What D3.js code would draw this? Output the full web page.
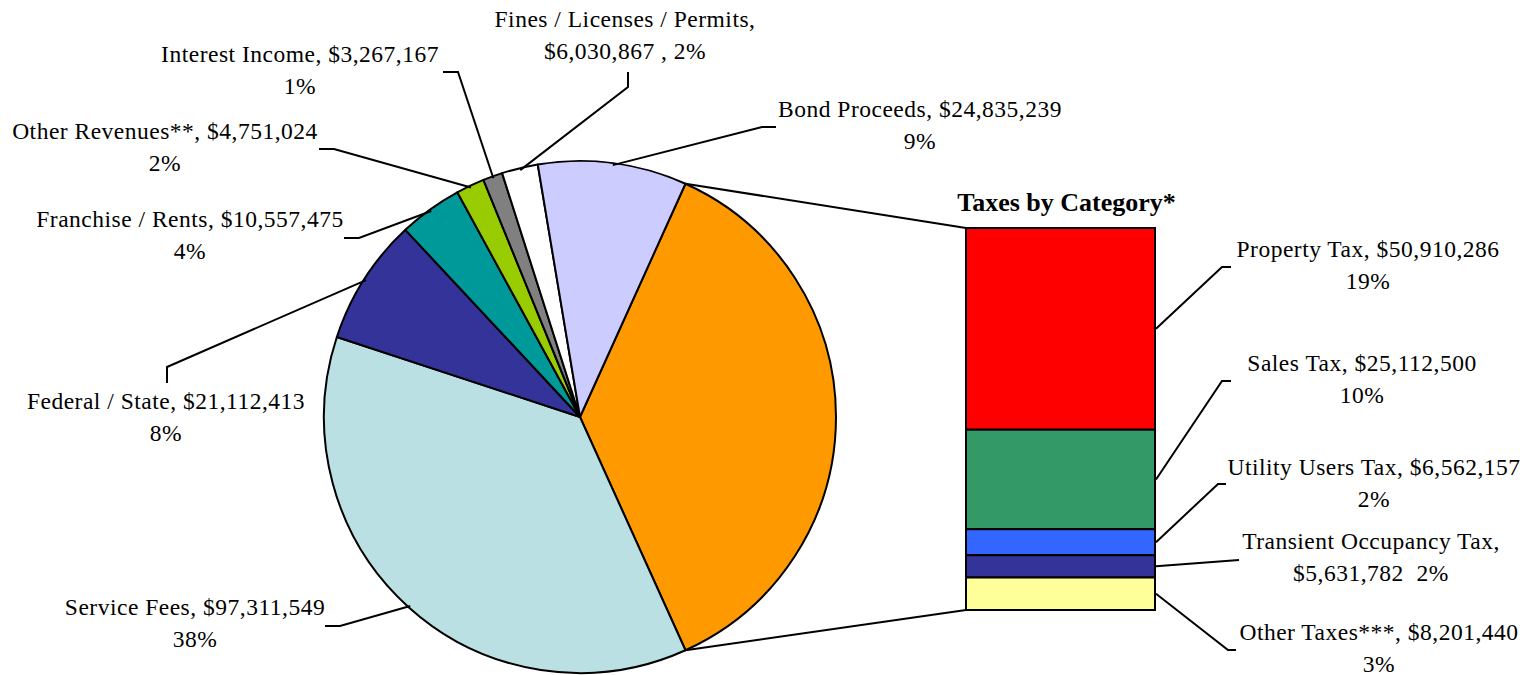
<!DOCTYPE html>
<html>
<head>
<meta charset="utf-8">
<script src="https://cdn.jsdelivr.net/npm/d3@7"></script>
<style>
  body { margin: 0; background: #fff; }
  text { font-family: "Liberation Serif", "Times New Roman", serif; white-space: pre; }
</style>
</head>
<body>
<script>
// revenue slices, clockwise starting with the exploded "Taxes" slice
const revNames = ["Taxes", "Service Fees", "Federal / State", "Franchise / Rents",
  "Other Revenues**", "Interest Income", "Fines / Licenses / Permits", "Bond Proceeds"];
const revColors = ["#FF9900", "#BBE0E3", "#333399", "#009999", "#99CC00", "#808080", "#FFFFFF", "#CCCCFF"];
const revPcts = ["", "38%", "8%", "4%", "2%", "1%", "2%", "9%"];

// tax breakdown (the bar)
const taxNames = ["Property Tax", "Sales Tax", "Utility Users Tax", "Transient Occupancy Tax", "Other Taxes***"];
const taxValues = [50910286, 25112500, 6562157, 5631782, 8201440];
const taxColors = ["#FF0000", "#339966", "#3366FF", "#333399", "#FFFF99"];
const taxPcts = ["19%", "10%", "2%", "2%", "3%"];

const otherValues = [97311549, 21112413, 10557475, 4751024, 3267167, 6030867, 24835239];
const taxTotal = d3.sum(taxValues);
const revValues = [taxTotal].concat(otherValues);

const width = 1531, height = 675;
const cx = 580, cy = 417, r = 256;
const bar = {x0: 966, x1: 1155, top: 228, bottom: 610};
const fmt = d3.format("$,");
const fontSize = 23.5;
const lineH = 31.5;

// label placement: text centre, first baseline, leader elbow and end
const revLayout = [
  null,
  {x: 195, y: 615, elbow: [340, 626], end: [325, 626]},
  {x: 166, y: 409, elbow: [167, 367], end: [167, 383]},
  {x: 190, y: 227, elbow: [359, 238], end: [344, 238]},
  {x: 165, y: 139, elbow: [334, 149], end: [319, 149]},
  {x: 300, y: 62, elbow: [458, 72], end: [443, 72]},
  {x: 625, y: 27, elbow: [628, 87], end: [628, 72], wrap: " , "},
  {x: 920, y: 117, elbow: [762, 127], end: [776, 127]}
];
const taxLayout = [
  {x: 1368, y: 257, elbow: [1222, 267], end: [1231, 267]},
  {x: 1362, y: 371, elbow: [1222, 381], end: [1231, 381]},
  {x: 1374, y: 475, elbow: [1218, 484], end: [1226, 484]},
  {x: 1371, y: 549, elbow: [1239, 560], end: [1239, 560], wrap: "  "},
  {x: 1379, y: 640, elbow: [1228, 650], end: [1236, 650]}
];

const svg = d3.select("body").append("svg")
  .attr("width", width)
  .attr("height", height);

const taxAngle = taxTotal / d3.sum(revValues) * 2 * Math.PI;
const a0 = Math.PI / 2 - taxAngle / 2;

const pie = d3.pie().sort(null).value(function(d) { return d; })
  .startAngle(a0).endAngle(a0 + 2 * Math.PI);
const arcs = pie(revValues);
const arc = d3.arc().innerRadius(0).outerRadius(r);

function polar(a, rad) {
  return [cx + rad * Math.sin(a), cy - rad * Math.cos(a)];
}

// connector lines between taxes slice and bar
const y = d3.scaleLinear().domain([0, taxTotal]).range([bar.top, bar.bottom]);
const pA = polar(arcs[0].startAngle, r), pB = polar(arcs[0].endAngle, r);
svg.append("g")
  .attr("stroke", "#000").attr("stroke-width", 2)
  .selectAll("line")
  .data([[pA, [bar.x0, y(0)]], [pB, [bar.x0, y(taxTotal)]]])
  .join("line")
  .attr("x1", function(d) { return d[0][0]; })
  .attr("y1", function(d) { return d[0][1]; })
  .attr("x2", function(d) { return d[1][0]; })
  .attr("y2", function(d) { return d[1][1]; });

// pie
svg.append("g")
  .attr("transform", "translate(" + cx + "," + cy + ")")
  .selectAll("path")
  .data(arcs)
  .join("path")
  .attr("d", arc)
  .attr("fill", function(d, i) { return revColors[i]; })
  .attr("stroke", "#000")
  .attr("stroke-width", 2)
  .attr("stroke-linejoin", "round");

// bar of taxes
let cum = 0;
const stacks = taxValues.map(function(v) { const s = {y0: cum, y1: cum + v}; cum += v; return s; });

svg.append("g")
  .selectAll("rect")
  .data(stacks)
  .join("rect")
  .attr("x", bar.x0)
  .attr("y", function(d) { return y(d.y0); })
  .attr("width", bar.x1 - bar.x0)
  .attr("height", function(d) { return y(d.y1) - y(d.y0); })
  .attr("fill", function(d, i) { return taxColors[i]; })
  .attr("stroke", "#000")
  .attr("stroke-width", 2);

svg.append("text")
  .attr("x", (bar.x0 + bar.x1) / 2 + 6)
  .attr("y", 211)
  .attr("text-anchor", "middle")
  .attr("font-weight", "bold")
  .attr("font-size", 26)
  .text("Taxes by Category*");

// labels with leader lines
const labels = [];
arcs.forEach(function(d, i) {
  if (!revLayout[i]) return;
  const mid = (d.startAngle + d.endAngle) / 2;
  labels.push({start: polar(mid, r - 2), lay: revLayout[i], name: revNames[i], value: revValues[i], pct: revPcts[i]});
});
stacks.forEach(function(d, i) {
  labels.push({start: [bar.x1 + 1, y((d.y0 + d.y1) / 2)], lay: taxLayout[i], name: taxNames[i], value: taxValues[i], pct: taxPcts[i]});
});

svg.append("g")
  .attr("fill", "none")
  .attr("stroke", "#000")
  .attr("stroke-width", 2)
  .selectAll("polyline")
  .data(labels)
  .join("polyline")
  .attr("points", function(d) { return [d.start, d.lay.elbow, d.lay.end].map(function(p) { return p.join(","); }).join(" "); });

const lg = svg.append("g")
  .attr("font-size", fontSize)
  .attr("letter-spacing", 0.5)
  .attr("fill", "#000")
  .attr("text-anchor", "middle");
labels.forEach(function(d) {
  const lines = d.lay.wrap
    ? [d.name + ",", fmt(d.value) + d.lay.wrap + d.pct]
    : [d.name + ", " + fmt(d.value), d.pct];
  lg.append("g").selectAll("text")
    .data(lines)
    .join("text")
    .attr("x", d.lay.x)
    .attr("y", function(t, k) { return d.lay.y + k * lineH; })
    .text(function(t) { return t; });
});
</script>
</body>
</html>
